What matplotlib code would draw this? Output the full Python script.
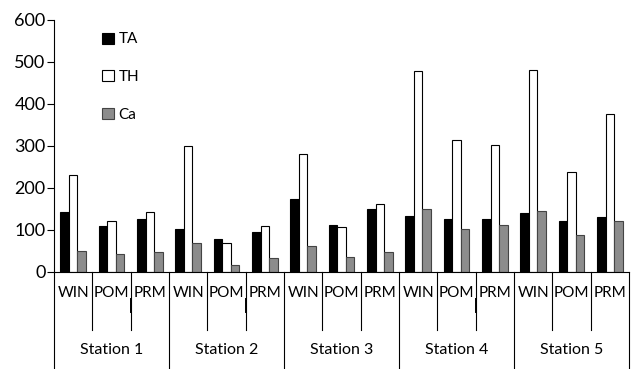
import matplotlib
matplotlib.use("Agg")
import matplotlib.pyplot as plt
import numpy as np

plt.rcParams['font.family'] = ['Lato', 'DejaVu Sans']

stations = ['Station 1', 'Station 2', 'Station 3', 'Station 4', 'Station 5']
seasons = ['WIN', 'POM', 'PRM']

# values per station, in season order WIN, POM, PRM
ta = [143, 110, 127,  103, 78, 95,  173, 111, 151,  133, 127, 127,  140, 122, 132]
th = [232, 122, 143,  300, 68, 110,  281, 106, 163,  478, 314, 303,  481, 237, 375]
ca = [51, 44, 48,  70, 17, 33,  62, 35, 48,  151, 103, 113,  146, 89, 122]

W, H = 638, 369
fig = plt.figure(figsize=(W / 100, H / 100), dpi=100)
ax = fig.add_axes([54 / W, (H - 272) / H, (629 - 54) / W, 252 / H])

n = len(ta)
x = np.arange(n) + 0.5
bw = 0.225
ax.bar(x - bw, ta, bw, color='black', edgecolor='black', linewidth=0.8, label='TA')
ax.bar(x, th, bw, color='white', edgecolor='black', linewidth=0.8, label='TH')
ax.bar(x + bw, ca, bw, color='#8c8c8c', edgecolor='#444444', linewidth=0.8, label='Ca')

ax.set_xlim(0, n)
ax.set_ylim(0, 600)
ax.set_yticks(range(0, 601, 100))
ax.tick_params(axis='y', direction='out', length=5, width=0.8, labelsize=13, pad=1)
ax.set_xticks([])
for s in ['top', 'right']:
    ax.spines[s].set_visible(False)
ax.spines['left'].set_linewidth(0.8)
ax.spines['bottom'].set_linewidth(0.8)

# category table under the axis
tr = ax.get_xaxis_transform()
for i in range(n + 1):
    y_end = -0.385 if i % 3 == 0 else -0.23
    ax.plot([i, i], [0, y_end], color='black', lw=0.8, transform=tr, clip_on=False)
for i in range(n):
    ax.text(i + 0.5, -0.083, seasons[i % 3], transform=tr, ha='center', va='center',
            fontsize=11)
for k, name in enumerate(stations):
    ax.text(3 * k + 1.5, -0.31, name, transform=tr, ha='center', va='center', fontsize=11.5)

# small dark marks on some POM/PRM separators
for i in [2, 5, 11]:
    ax.plot([i, i], [-0.107, -0.159], color='black', lw=1.4, transform=tr, clip_on=False)

leg = ax.legend(loc='upper left', bbox_to_anchor=(0.06, 1.005), frameon=False,
                handlelength=0.75, handleheight=0.75, handletextpad=0.3,
                labelspacing=1.55, fontsize=11)

fig.savefig('out.png', dpi=100)
